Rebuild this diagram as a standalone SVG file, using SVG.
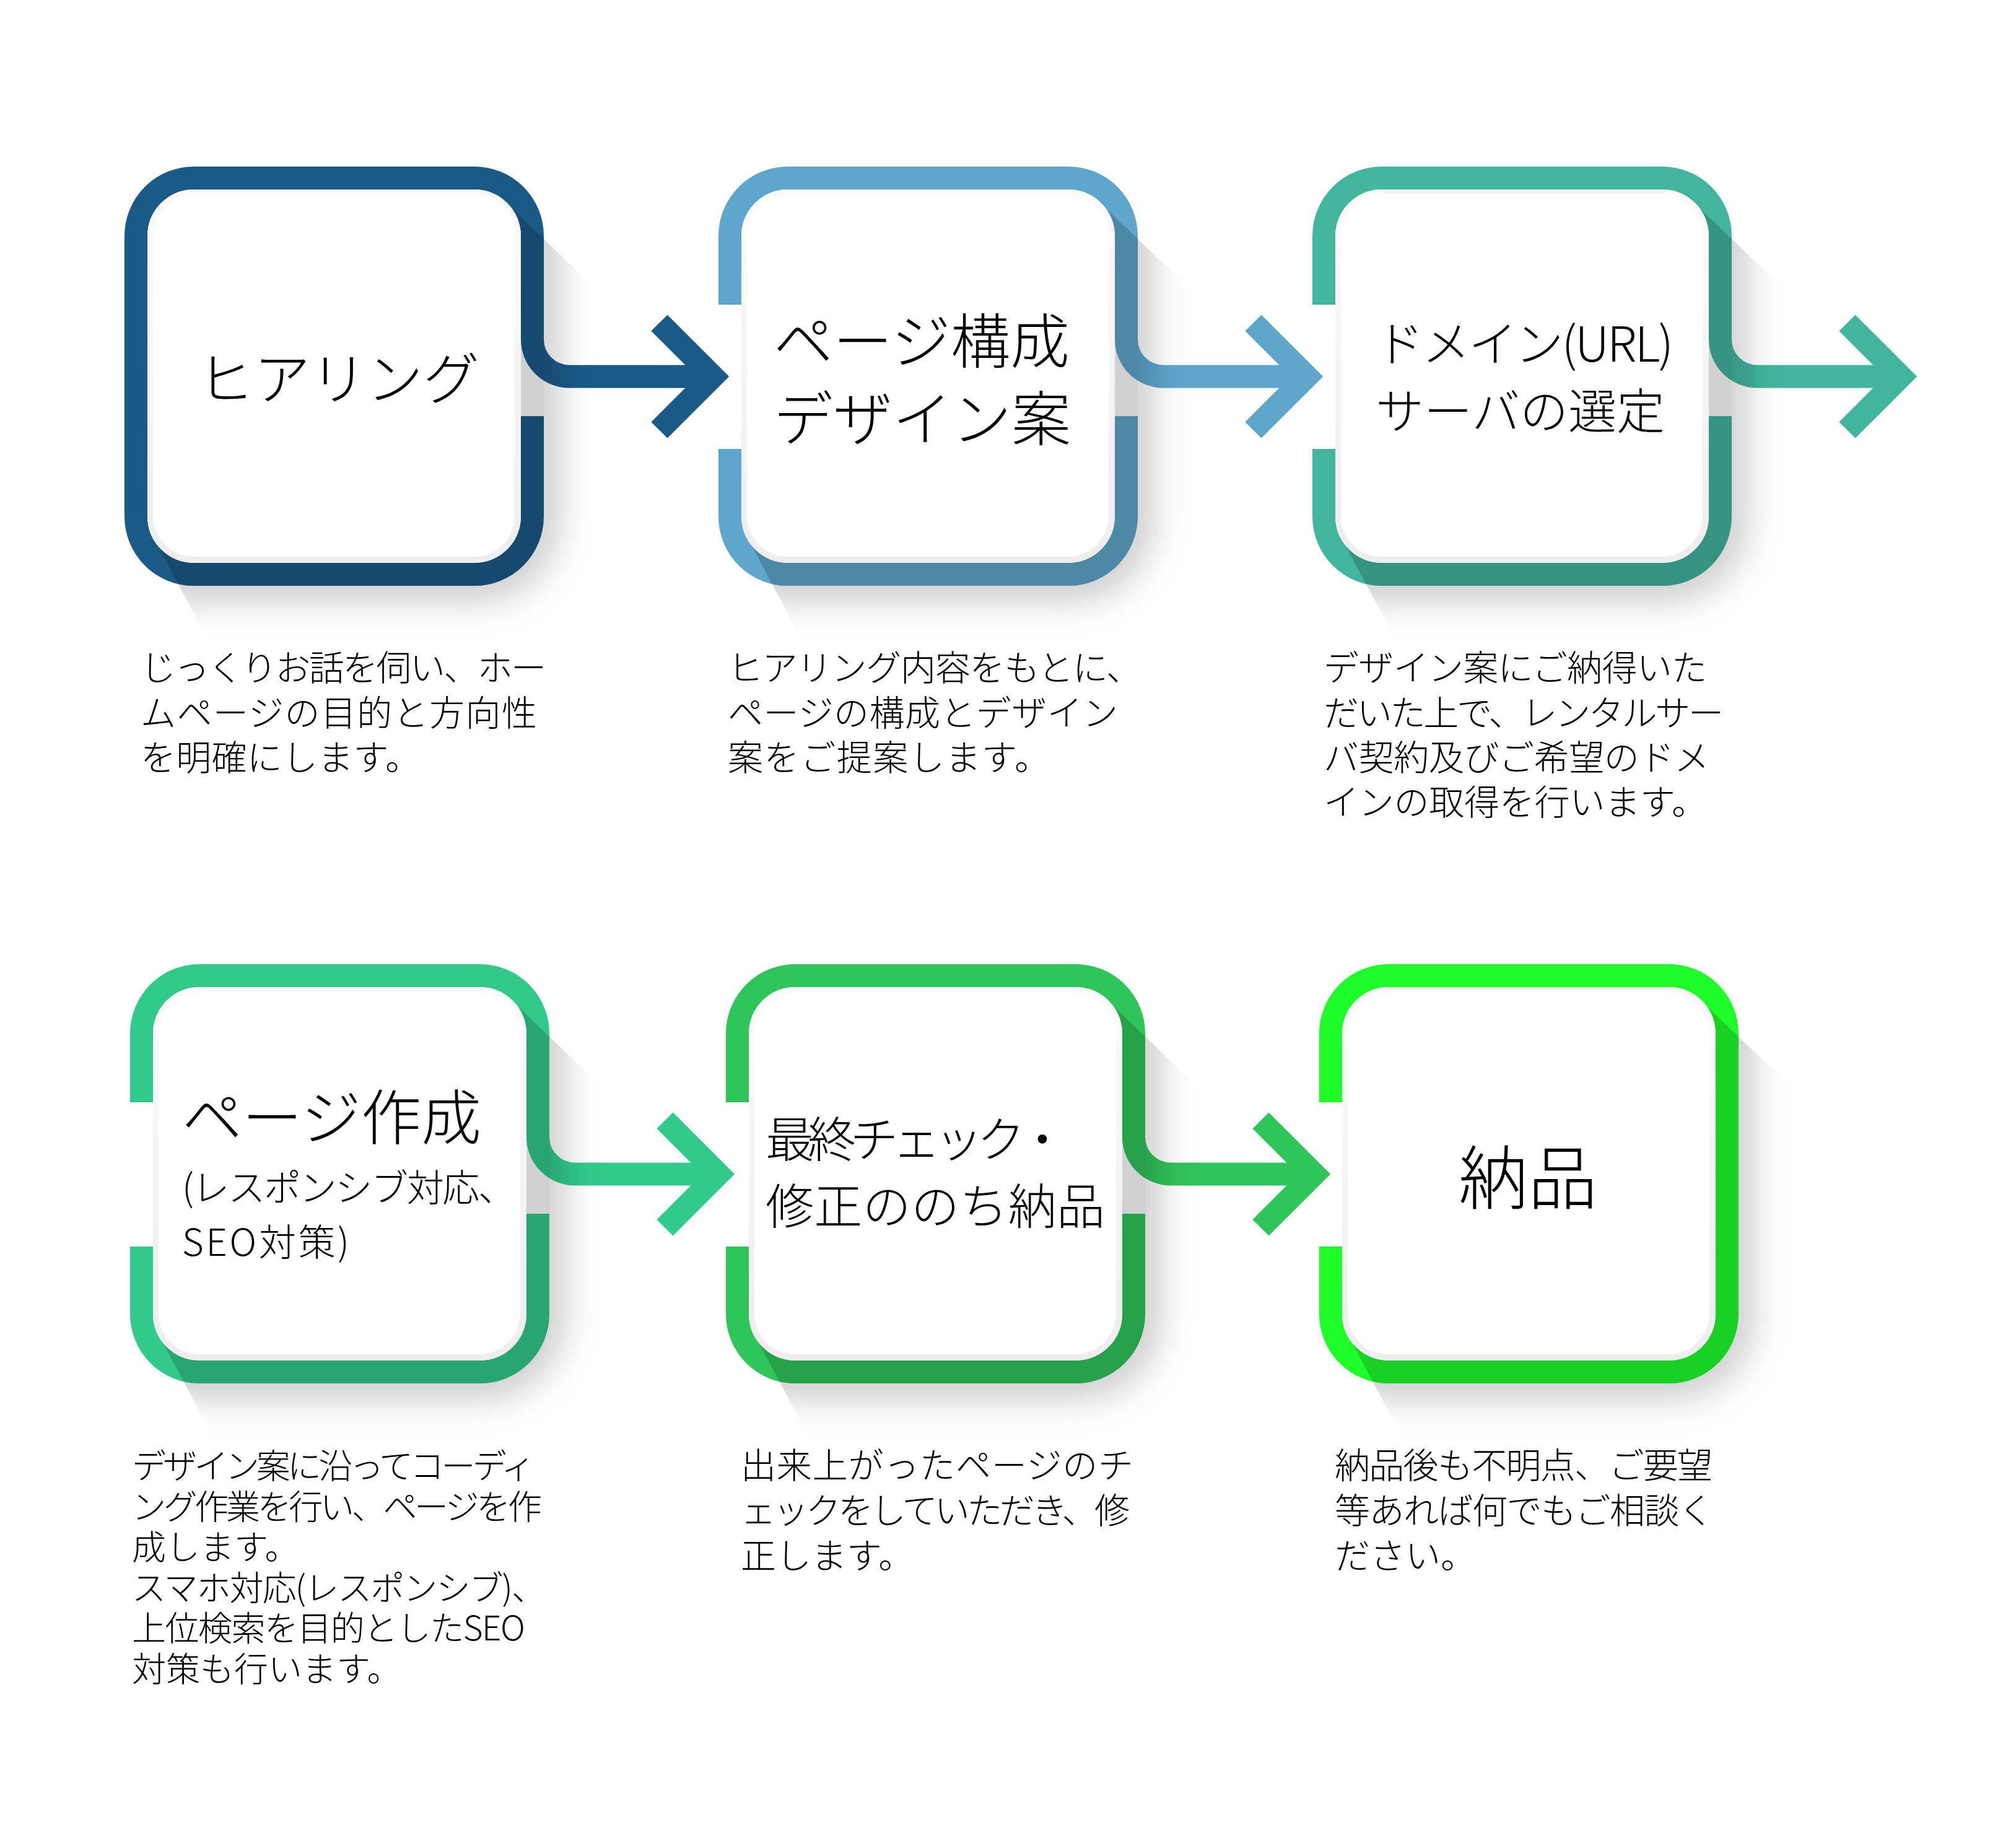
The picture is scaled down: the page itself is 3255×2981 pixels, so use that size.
<svg xmlns="http://www.w3.org/2000/svg" width="3255" height="2981" viewBox="0 0 3255 2981">
<style>
.fr{fill:none;stroke-width:37;stroke-linecap:butt}
.cn{fill:none;stroke-width:37;stroke-linecap:butt;stroke-linejoin:miter;stroke-miterlimit:4}
.sh{fill:#000;fill-opacity:0.18}
.cb{fill:url(#cg)}
.cw{fill:#fff}
.t{font-family:"Noto Sans CJK JP","Noto Sans",sans-serif;font-weight:300;fill:#000}
.d{font-family:"Noto Sans CJK JP","Noto Sans",sans-serif;font-weight:300;fill:#000;font-size:57px}
.s1{stroke:#1b5a87}.s2{stroke:#5ea6cc}.s3{stroke:#41b59d}.s4{stroke:#32ca8b}.s5{stroke:#30c55a}.s6{stroke:#1eff2a}
</style>
<defs>
<linearGradient id="cg" x1="0" y1="0" x2="0" y2="1"><stop offset="0" stop-color="#fbfbfb"/><stop offset="1" stop-color="#eeeeee"/></linearGradient>
<filter id="fb" filterUnits="userSpaceOnUse" x="-300" y="-300" width="1400" height="1400"><feGaussianBlur stdDeviation="26"/></filter>
<mask id="sm" maskUnits="userSpaceOnUse" x="-300" y="-300" width="1500" height="1500">
<rect x="0" y="0" width="677" height="677" rx="112" fill="#fff"/>
<rect x="-28" y="-28" width="733" height="733" rx="135" fill="#fff" filter="url(#fb)"/>
</mask>
</defs>
<rect width="3255" height="2981" fill="#fff"/>

<g id="connectors">
<path class="cn s1" transform="translate(201,269)" d="M658.5,279 A60,60 0 0 0 718.5,339 H950 M863.5,252.5 L950,339 L863.5,425.5"/>
<path class="cn s2" transform="translate(1160,269)" d="M658.5,279 A60,60 0 0 0 718.5,339 H950 M863.5,252.5 L950,339 L863.5,425.5"/>
<path class="cn s3" transform="translate(2119,269)" d="M658.5,279 A60,60 0 0 0 718.5,339 H950 M863.5,252.5 L950,339 L863.5,425.5"/>
<path class="cn s4" transform="translate(210,1557)" d="M658.5,279 A60,60 0 0 0 718.5,339 H950 M863.5,252.5 L950,339 L863.5,425.5"/>
<path class="cn s5" transform="translate(1172,1557)" d="M658.5,279 A60,60 0 0 0 718.5,339 H950 M863.5,252.5 L950,339 L863.5,425.5"/>
</g>

<g id="node1">
<g transform="translate(201,269)">
<path class="fr s1" d="M658.5,403 V565 A93.5,93.5 0 0 1 565,658.5 H112 A93.5,93.5 0 0 1 18.5,565 V112 A93.5,93.5 0 0 1 112,18.5 H565 A93.5,93.5 0 0 1 658.5,112 V279"/>
<polygon class="sh" mask="url(#sm)" points="628,70 1100,523 1100,1100 314,1100 47,600 560,560"/>
<rect class="cb" x="37" y="37" width="603" height="603" rx="75"/>
<rect class="cw" x="46" y="46" width="584" height="584" rx="66"/>
<text class="t" x="345.5" y="376" font-size="91" text-anchor="middle">ヒアリング</text>
</g>
<text class="d"><tspan x="227" y="1099" textLength="655">じっくりお話を伺い、ホー</tspan><tspan x="227" y="1172" textLength="640">ムページの目的と方向性</tspan><tspan x="227" y="1244" textLength="452">を明確にします。</tspan></text>
</g>

<g id="node2">
<g transform="translate(1160,269)">
<path class="fr s2" d="M18.5,223 V112 A93.5,93.5 0 0 1 112,18.5 H565 A93.5,93.5 0 0 1 658.5,112 V279 M658.5,403 V565 A93.5,93.5 0 0 1 565,658.5 H112 A93.5,93.5 0 0 1 18.5,565 V456"/>
<polygon class="sh" mask="url(#sm)" points="628,70 1100,523 1100,1100 314,1100 47,600 560,560"/>
<rect class="cb" x="37" y="37" width="603" height="603" rx="75"/>
<rect class="cw" x="46" y="46" width="584" height="584" rx="66"/>
<text class="t" font-size="96"><tspan x="89" y="317">ページ構成</tspan><tspan x="89" y="442">デザイン案</tspan></text>
</g>
<text class="d"><tspan x="1175" y="1099" textLength="668">ヒアリング内容をもとに、</tspan><tspan x="1175" y="1172" textLength="630">ページの構成とデザイン</tspan><tspan x="1175" y="1244" textLength="520">案をご提案します。</tspan></text>
</g>

<g id="node3">
<g transform="translate(2119,269)">
<path class="fr s3" d="M18.5,223 V112 A93.5,93.5 0 0 1 112,18.5 H565 A93.5,93.5 0 0 1 658.5,112 V279 M658.5,403 V565 A93.5,93.5 0 0 1 565,658.5 H112 A93.5,93.5 0 0 1 18.5,565 V456"/>
<polygon class="sh" mask="url(#sm)" points="628,70 1100,523 1100,1100 314,1100 47,600 560,560"/>
<rect class="cb" x="37" y="37" width="603" height="603" rx="75"/>
<rect class="cw" x="46" y="46" width="584" height="584" rx="66"/>
<text class="t" font-size="78"><tspan x="102" y="315" textLength="481">ドメイン(URL)</tspan><tspan x="102" y="424" textLength="467">サーバの選定</tspan></text>
</g>
<text class="d"><tspan x="2137" y="1099" textLength="619">デザイン案にご納得いた</tspan><tspan x="2137" y="1172" textLength="646">だいた上で、レンタルサー</tspan><tspan x="2137" y="1244" textLength="623">バ契約及びご希望のドメ</tspan><tspan x="2137" y="1316" textLength="619">インの取得を行います。</tspan></text>
</g>

<g id="node4">
<g transform="translate(210,1557)">
<path class="fr s4" d="M18.5,223 V112 A93.5,93.5 0 0 1 112,18.5 H565 A93.5,93.5 0 0 1 658.5,112 V279 M658.5,403 V565 A93.5,93.5 0 0 1 565,658.5 H112 A93.5,93.5 0 0 1 18.5,565 V456"/>
<polygon class="sh" mask="url(#sm)" points="628,70 1100,523 1100,1100 314,1100 47,600 560,560"/>
<rect class="cb" x="37" y="37" width="603" height="603" rx="75"/>
<rect class="cw" x="46" y="46" width="584" height="584" rx="66"/>
<text class="t" x="84" y="283" font-size="97">ページ作成</text>
<text class="t" font-size="60"><tspan x="84" y="383" textLength="538">(レスポンシブ対応、</tspan><tspan x="84" y="471" textLength="270">SEO対策)</tspan></text>
</g>
<text class="d" style="font-size:55px"><tspan x="213" y="2387" textLength="651">デザイン案に沿ってコーディ</tspan><tspan x="213" y="2452.5" textLength="662">ング作業を行い、ページを作</tspan><tspan x="213" y="2518">成します。</tspan><tspan x="213" y="2583.5" textLength="668">スマホ対応(レスポンシブ)、</tspan><tspan x="213" y="2649" textLength="635">上位検索を目的としたSEO</tspan><tspan x="213" y="2714.5">対策も行います。</tspan></text>
</g>

<g id="node5">
<g transform="translate(1172,1557)">
<path class="fr s5" d="M18.5,223 V112 A93.5,93.5 0 0 1 112,18.5 H565 A93.5,93.5 0 0 1 658.5,112 V279 M658.5,403 V565 A93.5,93.5 0 0 1 565,658.5 H112 A93.5,93.5 0 0 1 18.5,565 V456"/>
<polygon class="sh" mask="url(#sm)" points="628,70 1100,523 1100,1100 314,1100 47,600 560,560"/>
<rect class="cb" x="37" y="37" width="603" height="603" rx="75"/>
<rect class="cw" x="46" y="46" width="584" height="584" rx="66"/>
<text class="t" font-size="78"><tspan x="64" y="312" textLength="486">最終チェック・</tspan><tspan x="64" y="420" textLength="548">修正ののち納品</tspan></text>
</g>
<text class="d"><tspan x="1196" y="2387" textLength="634">出来上がったページのチ</tspan><tspan x="1196" y="2460" textLength="628">ェックをしていただき、修</tspan><tspan x="1196" y="2533">正します。</tspan></text>
</g>

<g id="node6">
<g transform="translate(2130,1557)">
<path class="fr s6" d="M18.5,223 V112 A93.5,93.5 0 0 1 112,18.5 H565 A93.5,93.5 0 0 1 658.5,112 V565 A93.5,93.5 0 0 1 565,658.5 H112 A93.5,93.5 0 0 1 18.5,565 V456"/>
<polygon class="sh" mask="url(#sm)" points="628,70 1100,523 1100,1100 314,1100 47,600 560,560"/>
<rect class="cb" x="37" y="37" width="603" height="603" rx="75"/>
<rect class="cw" x="46" y="46" width="584" height="584" rx="66"/>
<text class="t" x="337" y="387" font-size="112" text-anchor="middle">納品</text>
</g>
<text class="d"><tspan x="2155" y="2387" textLength="610">納品後も不明点、ご要望</tspan><tspan x="2155" y="2460" textLength="612">等あれば何でもご相談く</tspan><tspan x="2155" y="2533">ださい。</tspan></text>
</g>
</svg>
